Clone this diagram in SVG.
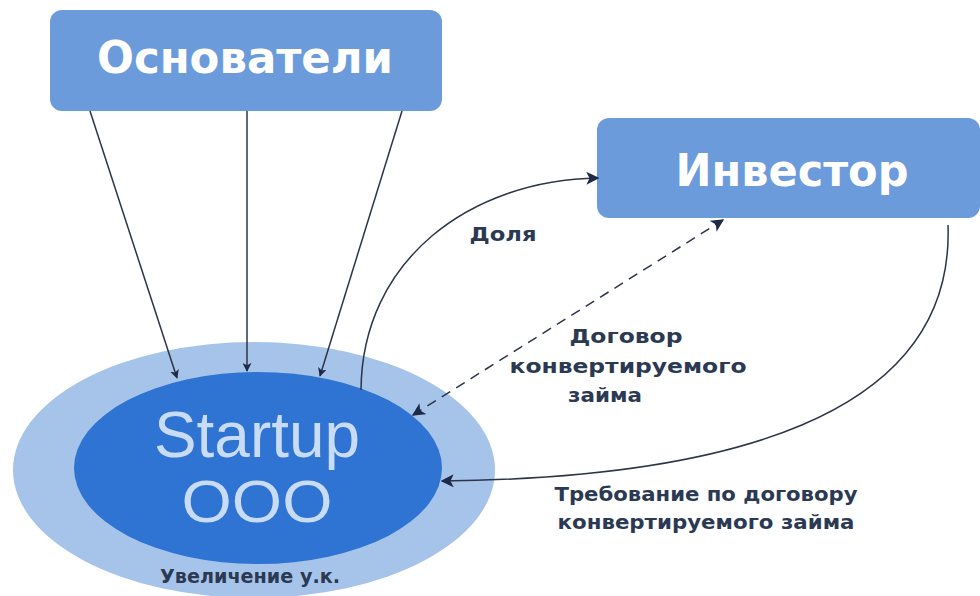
<svg xmlns="http://www.w3.org/2000/svg" width="980" height="596" viewBox="0 0 980 596">
<defs>
<marker id="ah" viewBox="0 0 10 10" refX="9" refY="5" markerWidth="9" markerHeight="9" markerUnits="userSpaceOnUse" orient="auto-start-reverse">
<path d="M0,0 L10,5 L0,10 L2.5,5 Z" fill="#1e2b48"/>
</marker>
<marker id="ah2" viewBox="0 0 10 10" refX="9" refY="5" markerWidth="13" markerHeight="13" markerUnits="userSpaceOnUse" orient="auto-start-reverse">
<path d="M0,0 L10,5 L0,10 L2.5,5 Z" fill="#1e2b48"/>
</marker>
</defs>
<style>
.box{fill:#6b9bdb;}
.title{font-family:"DejaVu Sans","Liberation Sans",Arial,sans-serif;font-weight:bold;fill:#ffffff;text-anchor:middle;}
.lbl{font-family:"DejaVu Sans","Liberation Sans",Arial,sans-serif;font-weight:bold;fill:#2b3a52;text-anchor:middle;font-size:20px;}
.conn{fill:none;stroke:#2c3448;stroke-width:1.5;}
.st{font-family:"Liberation Sans",Arial,sans-serif;fill:#c9dcf5;text-anchor:middle;}
</style>
<rect width="980" height="596" fill="#ffffff"/>
<g id="startup">
<ellipse cx="254" cy="470" rx="241" ry="128" fill="#a6c3ea"/>
<ellipse cx="258" cy="468" rx="184" ry="96" fill="#2f73d3"/>
<text class="st" x="257" y="457" font-size="64" textLength="206" lengthAdjust="spacingAndGlyphs">Startup</text>
<text class="st" x="257" y="522" font-size="60" textLength="151" lengthAdjust="spacingAndGlyphs">OOO</text>
</g>
<g id="founders">
<rect class="box" x="50" y="10" width="392" height="101" rx="12"/>
<text class="title" x="245" y="73" font-size="45" textLength="296" lengthAdjust="spacingAndGlyphs">Основатели</text>
</g>
<g id="investor">
<rect class="box" x="597" y="118" width="383" height="100" rx="12"/>
<text class="title" x="792" y="186" font-size="45" textLength="233" lengthAdjust="spacingAndGlyphs">Инвестор</text>
</g>
<g id="connectors">
<line class="conn" x1="90" y1="111" x2="177" y2="378" marker-end="url(#ah)"/>
<line class="conn" x1="247" y1="111" x2="247" y2="371" marker-end="url(#ah)"/>
<line class="conn" x1="402" y1="111" x2="320" y2="376" marker-end="url(#ah)"/>
<path class="conn" d="M361,390 C362,260 470,180 598,178" marker-end="url(#ah2)"/>
<line class="conn" x1="413" y1="415" x2="723" y2="220" stroke-dasharray="10,7" marker-start="url(#ah2)" marker-end="url(#ah2)"/>
<path class="conn" d="M948,225 C955,420 720,478 442,481" marker-end="url(#ah2)"/>
</g>
<g id="labels">
<text class="lbl" x="503" y="241" font-size="17" textLength="67" lengthAdjust="spacingAndGlyphs">Доля</text>
<text class="lbl" x="626" y="343" textLength="113" lengthAdjust="spacingAndGlyphs">Договор</text>
<text class="lbl" x="628" y="373" textLength="237" lengthAdjust="spacingAndGlyphs">конвертируемого</text>
<text class="lbl" x="605" y="402" textLength="74" lengthAdjust="spacingAndGlyphs">займа</text>
<text class="lbl" x="706" y="501" textLength="303" lengthAdjust="spacingAndGlyphs">Требование по договору</text>
<text class="lbl" x="706" y="529" textLength="297" lengthAdjust="spacingAndGlyphs">конвертируемого займа</text>
<text class="lbl" x="250" y="583" font-size="16" textLength="180" lengthAdjust="spacingAndGlyphs">Увеличение у.к.</text>
</g>
</svg>
